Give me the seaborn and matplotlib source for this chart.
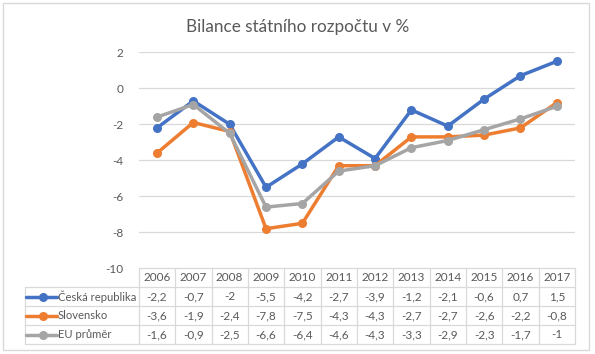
import matplotlib
matplotlib.use("Agg")
import matplotlib.pyplot as plt
import matplotlib.transforms as mtransforms
from matplotlib.patches import Rectangle
from matplotlib.lines import Line2D
import seaborn as sns
import pandas as pd

years = ["2006", "2007", "2008", "2009", "2010", "2011", "2012", "2013", "2014", "2015", "2016", "2017"]
series_names = ["Česká republika", "Slovensko", "EU průměr"]
cz = [-2.2, -0.7, -2.0, -5.5, -4.2, -2.7, -3.9, -1.2, -2.1, -0.6, 0.7, 1.5]
sk = [-3.6, -1.9, -2.4, -7.8, -7.5, -4.3, -4.3, -2.7, -2.7, -2.6, -2.2, -0.8]
eu = [-1.6, -0.9, -2.5, -6.6, -6.4, -4.6, -4.3, -3.3, -2.9, -2.3, -1.7, -1.0]
yticks = [-10, -8, -6, -4, -2, 0, 2]
title = "Bilance státního rozpočtu v %"
colors = ["#4472C4", "#ED7D31", "#A5A5A5"]

sns.set_style("white")
plt.rcParams["font.family"] = ["Lato", "DejaVu Sans"]

W, H = 595, 354
fig = plt.figure(figsize=(W / 100, H / 100), dpi=100)

def fx(px):
    return px / W

def fy(py):
    return 1 - py / H

# outer frame
fig.patches.append(Rectangle((fx(3), fy(350)), fx(589) - fx(3), fy(3) - fy(350),
                             transform=fig.transFigure, fill=False,
                             edgecolor="#D9D9D9", linewidth=1.0))

left, right, top, bottom = 138.8, 575.0, 52.3, 268.3
ax = fig.add_axes([fx(left), fy(bottom), fx(right) - fx(left), fy(top) - fy(bottom)])

all_vals = [cz, sk, eu]
rows = []
for name, vals in zip(series_names, all_vals):
    for i, v in enumerate(vals):
        rows.append({"idx": i, "val": v, "series": name})
df = pd.DataFrame(rows)

sns.lineplot(data=df, x="idx", y="val", hue="series", palette=colors,
             marker="o", markersize=6.5, markeredgewidth=0, linewidth=2.5,
             ax=ax, legend=False, zorder=3)

ax.set_xlim(-0.5, len(years) - 0.5)
ax.set_ylim(-10, 2)
ax.set_yticks(yticks)
ax.set_yticklabels([str(t) for t in yticks], color="#595959", fontsize=8.5)
ax.set_xticks([])
ax.set_xlabel("")
ax.set_ylabel("")
ax.tick_params(axis="y", length=0, pad=11)
for t in yticks[1:]:
    ax.axhline(t, color="#D9D9D9", linewidth=0.9, zorder=1)
for s in ax.spines.values():
    s.set_visible(False)
ax.patch.set_alpha(0)

fig.text(0.5 * (fx(3) + fx(589)) + 0.002, fy(27), title, ha="center", va="center",
         fontsize=12.3, color="#595959")

# data table
tr = mtransforms.blended_transform_factory(ax.transData, fig.transFigure)
row_y = [268.3, 287, 306, 325, 344]
grid_c = "#D9D9D9"
n = len(years)
fig.add_artist(Line2D([-0.5, n - 0.5], [fy(row_y[0])] * 2, transform=tr, color=grid_c, lw=0.9))
for yy in row_y[1:]:
    fig.add_artist(Line2D([fx(25), fx(right)], [fy(yy)] * 2, transform=fig.transFigure, color=grid_c, lw=0.9))
for k in range(n + 1):
    fig.add_artist(Line2D([k - 0.5, k - 0.5], [fy(row_y[0]), fy(row_y[-1])], transform=tr, color=grid_c, lw=0.9))
fig.add_artist(Line2D([fx(25), fx(25)], [fy(row_y[1]), fy(row_y[-1])], transform=fig.transFigure, color=grid_c, lw=0.9))

def fmt(v):
    return f"{v:g}".replace(".", ",")

txt_kw = dict(ha="center", va="center", fontsize=8.5, color="#595959")
for i, yr in enumerate(years):
    fig.text(i, fy((row_y[0] + row_y[1]) / 2), yr, transform=tr, **txt_kw)
for r, vals in enumerate(all_vals):
    yc = fy((row_y[r + 1] + row_y[r + 2]) / 2)
    for i, v in enumerate(vals):
        fig.text(i, yc, fmt(v), transform=tr, **txt_kw)
    fig.add_artist(Line2D([fx(26), fx(57)], [yc, yc], transform=fig.transFigure,
                          color=colors[r], lw=2.5))
    fig.add_artist(Line2D([fx(42.5)], [yc], transform=fig.transFigure, marker="o",
                          markersize=6.5, markeredgewidth=0, color=colors[r]))
    fig.text(fx(58), yc, series_names[r], ha="left", va="center", fontsize=8.1, color="#595959")

fig.savefig("out.png", dpi=100)
